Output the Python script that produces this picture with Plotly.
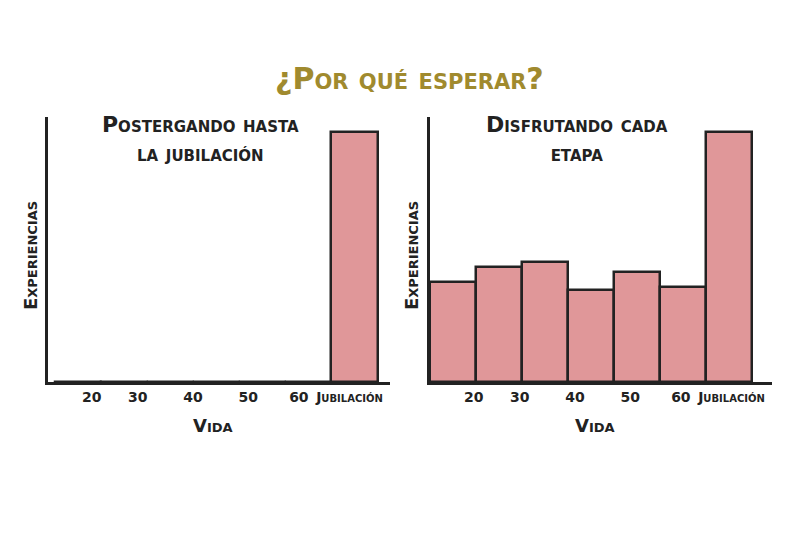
import plotly.graph_objects as go

# ---- data ----
stages = ["<20", "20-30", "30-40", "40-50", "50-60", "60-65", "Jubilación"]
postpone_values = [0, 0, 0, 0, 0, 0, 100]
enjoy_values = [40, 46, 48, 37, 44, 38, 100]
tick_labels = ["20", "30", "40", "50", "60", "Jubilación"]

main_title = "¿Por qué esperar?"
left_title = "Postergando hasta<br>la jubilación"
right_title = "Disfrutando cada<br>etapa"
x_title = "Vida"
y_title = "Experiencias"

# ---- layout helpers (positions, not data) ----
bar_x = list(range(len(stages)))
tick_pos = [0.45, 1.45, 2.65, 3.85, 4.95, 6.05]

FONT = "DejaVu Sans"
INK = "#222222"
BAR = "#e09799"
GOLD = "#a08a2e"

fig = go.Figure()
fig.add_trace(go.Bar(x=bar_x, y=postpone_values, width=1.04, offset=-0.36, xaxis="x", yaxis="y",
                     marker=dict(color=BAR, line=dict(color=INK, width=2.5)),
                     showlegend=False, hoverinfo="skip"))
fig.add_trace(go.Bar(x=bar_x, y=enjoy_values, width=1.0, xaxis="x2", yaxis="y2",
                     marker=dict(color=BAR, line=dict(color=INK, width=2.5)),
                     showlegend=False, hoverinfo="skip"))

W, H = 800, 533
def fx(px):
    return px / W
def fy(py):
    return (H - py) / H

xcommon = dict(range=[-0.5, 6.93], showline=True, linecolor=INK, linewidth=2.5,
               showgrid=False, zeroline=False, ticks="", tickmode="array",
               tickvals=tick_pos, ticktext=tick_labels,
               tickfont=dict(family=FONT, size=14, color=INK, weight=700, variant="small-caps"),
               fixedrange=True)
ycommon = dict(range=[0, 106], showline=True, linecolor=INK, linewidth=2.5,
               showgrid=False, zeroline=False, showticklabels=False, ticks="",
               fixedrange=True)

fig.update_layout(
    width=W, height=H,
    margin=dict(l=0, r=0, t=0, b=0),
    paper_bgcolor="white", plot_bgcolor="white",
    bargap=0,
    xaxis=dict(domain=[fx(48), fx(390)], anchor="y", **xcommon),
    yaxis=dict(domain=[fy(382), fy(117)], anchor="x", **ycommon),
    xaxis2=dict(domain=[fx(430), fx(772)], anchor="y2", **xcommon),
    yaxis2=dict(domain=[fy(382), fy(117)], anchor="x2", **ycommon),
)

def ann(text, x, y, size, color=INK, angle=0):
    fig.add_annotation(text=text, x=fx(x), y=fy(y), xref="paper", yref="paper",
                       showarrow=False, textangle=angle, align="center",
                       xanchor="center", yanchor="middle",
                       font=dict(family=FONT, size=size, color=color, weight=700,
                                 variant="small-caps"))

ann(main_title, 410, 78, 30, GOLD)
ann(left_title, 200, 139, 22)
ann(right_title, 577, 139, 22)
ann(x_title, 213, 425, 18)
ann(x_title, 595, 425, 18)
ann(y_title, 30, 256, 18, angle=-90)
ann(y_title, 411, 256, 18, angle=-90)

fig.write_html("out.html")
